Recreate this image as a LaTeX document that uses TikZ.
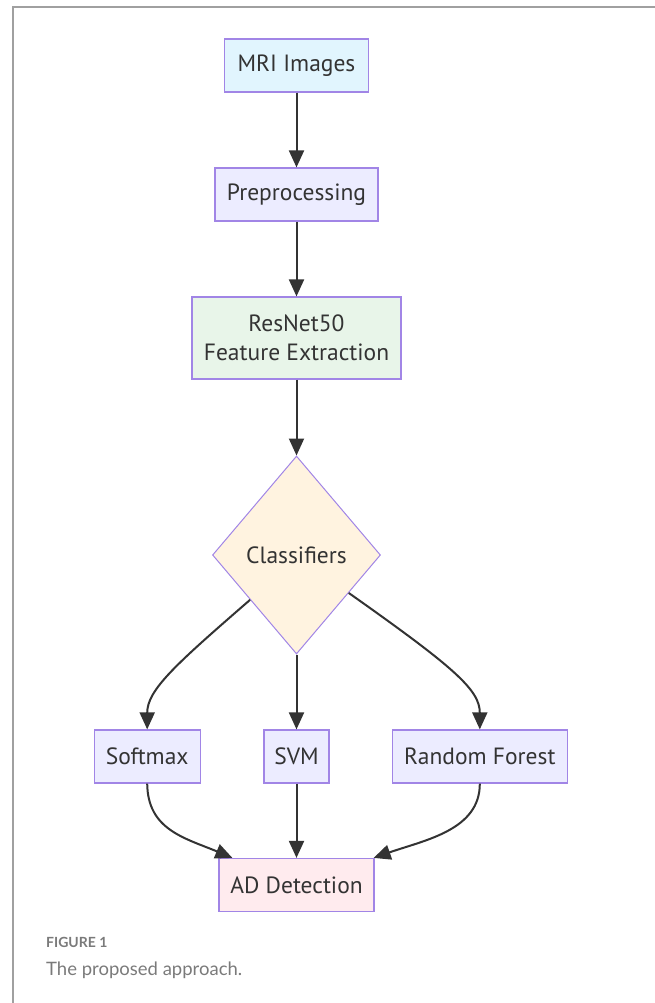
\documentclass[tikz,border=0pt]{standalone}
\usepackage{fontspec}
\usetikzlibrary{shapes.geometric,arrows.meta}
\newfontfamily\boxfont{PT Sans}
\newfontfamily\capfont{Lato}
\definecolor{inkgray}{HTML}{333333}
\definecolor{framegray}{HTML}{A0A0A0}
\definecolor{capgray}{HTML}{7A7A7A}
\definecolor{boxborder}{HTML}{A185E6}
\definecolor{fillblue}{HTML}{E1F5FE}
\definecolor{fillviolet}{HTML}{ECECFF}
\definecolor{fillgreen}{HTML}{E8F5E9}
\definecolor{fillorange}{HTML}{FFF3E0}
\definecolor{fillpink}{HTML}{FFEBEE}

\begin{document}
\begin{tikzpicture}[x=1pt, y=1pt,
  box/.style={draw=boxborder, line width=1.2pt, text=inkgray, inner sep=0pt, align=center,
              font={\boxfont\fontsize{23.5}{29}\selectfont}},
  flow/.style={draw=inkgray, line width=2pt, -{Triangle[length=17pt,width=15pt]}}]

\useasboundingbox (0,0) rectangle (655,-1003);

\def\cx{296.5}

% page frame
\draw[framegray, line width=1.5pt] (655,-7) -- (13,-7) -- (13,-1003);

% pipeline
\node[box, fill=fillblue,   minimum width=144, minimum height=53] (mri) at (\cx,-65.5) {MRI Images};
\node[box, fill=fillviolet, minimum width=163, minimum height=53] (pre) at (\cx,-194.5) {Preprocessing};
\node[box, fill=fillgreen,  minimum width=209, minimum height=82] (res) at (\cx,-338) {ResNet50\\Feature Extraction};
\node[box, fill=fillorange, shape=diamond, line width=1pt, minimum width=168, minimum height=198] (cls) at (\cx,-555) {Classifiers};

% classifiers
\node[box, fill=fillviolet, minimum width=106, minimum height=53] (soft) at (147.2,-756.5) {Softmax};
\node[box, fill=fillviolet, minimum width=65,  minimum height=53] (svm)  at (\cx,-756.5) {SVM};
\node[box, fill=fillviolet, minimum width=175, minimum height=53] (rf)   at (479.8,-756.5) {Random Forest};

% output
\node[box, fill=fillpink, minimum width=155, minimum height=53] (ad) at (\cx,-885) {AD Detection};

% edges
\draw[flow] (mri) -- (pre);
\draw[flow] (pre) -- (res);
\draw[flow] (res) -- (cls);
\draw[flow] (cls.224) .. controls (175,-665) and (soft.north |- 0,-690) .. (soft.north);
\draw[flow] (cls.south) -- (svm.north);
\draw[flow] (cls.-36.5) .. controls (455,-668) and (rf.north |- 0,-690) .. (rf.north);
\draw[flow] (soft.south) .. controls (147.7,-830) and (185,-838) .. ([xshift=14pt]ad.north west);
\draw[flow] (svm.south) -- (ad.north);
\draw[flow] (rf.south) .. controls (480,-830) and (425,-840) .. ([xshift=-1pt]ad.north east);

% caption
\node[anchor=base west, inner sep=0pt, text=capgray, font={\capfont\bfseries\fontsize{14}{16}\selectfont}] (fig) at (46,-947.7) {FIGURE 1};
\node[anchor=base west, inner sep=0pt, text=capgray, font={\capfont\fontsize{18.5}{22}\selectfont}] (cap) at (46,-975) {The proposed approach.};

\end{tikzpicture}
\end{document}
